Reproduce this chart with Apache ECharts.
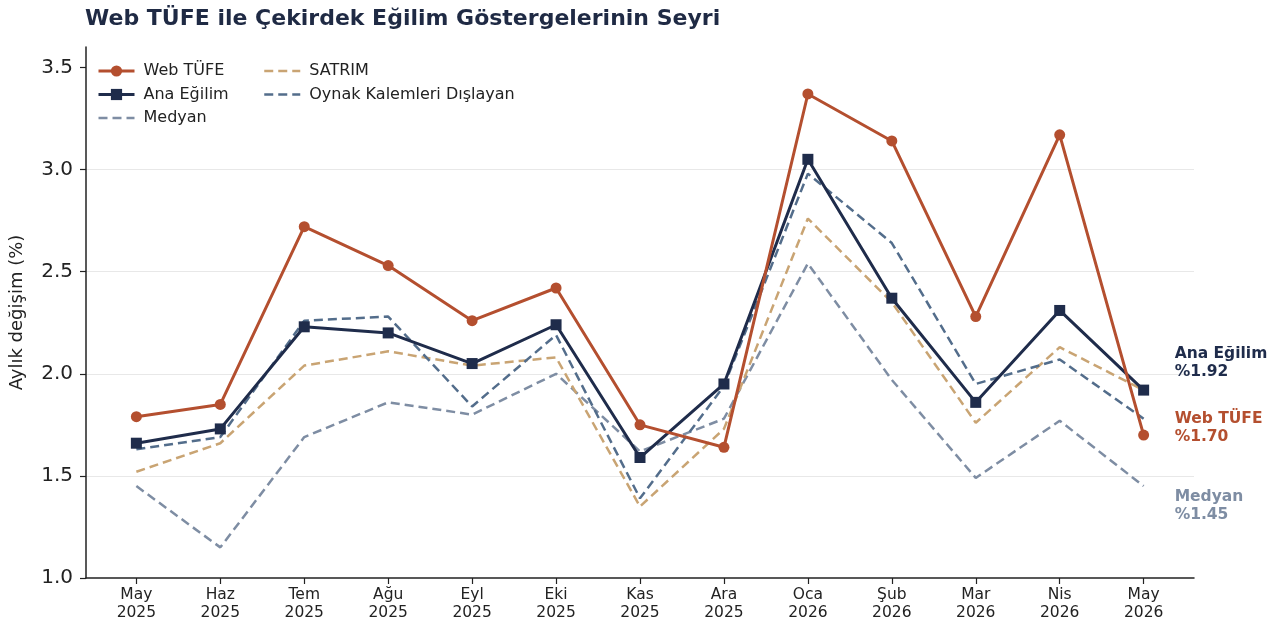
<!DOCTYPE html>
<html>
<head>
<meta charset="utf-8">
<script src="https://cdn.jsdelivr.net/npm/echarts@6/dist/echarts.min.js"></script>
<style>
html,body{margin:0;padding:0;background:#fff;}
#chart{width:1278px;height:630px;}
</style>
</head>
<body>
<div id="chart"></div>
<script>
// ---- data ----
const months = ['May','Haz','Tem','Ağu','Eyl','Eki','Kas','Ara','Oca','Şub','Mar','Nis','May'];
const years  = ['2025','2025','2025','2025','2025','2025','2025','2025','2026','2026','2026','2026','2026'];
const webTufe   = [1.79, 1.85, 2.72, 2.53, 2.26, 2.42, 1.75, 1.64, 3.37, 3.14, 2.28, 3.17, 1.70];
const anaEgilim = [1.66, 1.73, 2.23, 2.20, 2.05, 2.24, 1.59, 1.95, 3.05, 2.37, 1.86, 2.31, 1.92];
const medyan    = [1.45, 1.15, 1.69, 1.86, 1.80, 2.00, 1.62, 1.78, 2.54, 1.97, 1.49, 1.77, 1.45];
const satrim    = [1.52, 1.66, 2.04, 2.11, 2.04, 2.08, 1.35, 1.73, 2.76, 2.35, 1.76, 2.13, 1.92];
const oynak     = [1.63, 1.69, 2.26, 2.28, 1.84, 2.19, 1.39, 1.94, 2.98, 2.64, 1.95, 2.07, 1.78];
const yTicks    = [1.0, 1.5, 2.0, 2.5, 3.0, 3.5];

const idx = months.map((_, i) => i);
const toPts = arr => arr.map((v, i) => [i, v]);

const FONT = 'DejaVu Sans';
const C_WEB = '#b44f2f', C_ANA = '#1f2c4b', C_MED = '#7e8da3', C_SAT = '#c9a473', C_OYN = '#536d8b';

const chart = echarts.init(document.getElementById('chart'), null, {renderer: 'canvas'});

function endLbl(color, dy) {
  return {
    show: true,
    formatter: p => p.seriesName + '\n%' + p.value[1].toFixed(2),
    color: color, fontFamily: FONT, fontWeight: 'bold', fontSize: 15.5, lineHeight: 18,
    align: 'left', verticalAlign: 'middle', distance: 0, offset: [31, dy]
  };
}

const legendBase = {
  orient: 'vertical', top: 63, padding: 0, itemWidth: 36, itemHeight: 14, itemGap: 7.5,
  textStyle: {fontFamily: FONT, fontSize: 16, color: '#222', padding: [0, 0, 0, 4]}
};

const option = {
  animation: false,
  backgroundColor: '#fff',
  textStyle: {fontFamily: FONT},
  title: {
    text: 'Web TÜFE ile Çekirdek Eğilim Göstergelerinin Seyri',
    left: 80, top: 3,
    textStyle: {fontFamily: FONT, fontWeight: 'bold', fontSize: 22, color: '#1f2a44'}
  },
  grid: {left: 85, right: 84, top: 47, bottom: 52, containLabel: false},
  legend: [
    Object.assign({}, legendBase, {
      left: 97,
      data: [
        {name: 'Web TÜFE', lineStyle: {width: 3}},
        {name: 'Ana Eğilim', lineStyle: {width: 3}},
        {name: 'Medyan', itemStyle: {opacity: 0}, lineStyle: {width: 2.5}}
      ]
    }),
    Object.assign({}, legendBase, {
      left: 263,
      data: [
        {name: 'SATRIM', itemStyle: {opacity: 0}, lineStyle: {width: 2.5}},
        {name: 'Oynak Kalemleri Dışlayan', itemStyle: {opacity: 0}, lineStyle: {width: 2.5}}
      ]
    })
  ],
  xAxis: {
    type: 'value', min: -0.6, max: 12.6,
    axisLine: {show: true, onZero: false, lineStyle: {color: '#222', width: 1.5}},
    axisTick: {show: true, customValues: idx, length: 6, lineStyle: {color: '#222', width: 1.2}},
    axisLabel: {
      customValues: idx, margin: 8, fontFamily: FONT, fontSize: 15.5, lineHeight: 18, color: '#222',
      formatter: v => months[Math.round(v)] + '\n' + years[Math.round(v)]
    },
    splitLine: {show: false}
  },
  yAxis: {
    type: 'value', min: 1.0, max: 3.6, interval: 0.5,
    name: 'Aylık değişim (%)', nameLocation: 'middle', nameGap: 60,
    nameTextStyle: {fontFamily: FONT, fontSize: 18, color: '#222'},
    axisLine: {show: true, onZero: false, lineStyle: {color: '#222', width: 1.5}},
    axisTick: {show: true, customValues: yTicks, length: 6, lineStyle: {color: '#222', width: 1.2}},
    axisLabel: {customValues: yTicks, margin: 13, fontFamily: FONT, fontSize: 20, color: '#222',
      padding: [3, 0, 0, 0], formatter: v => v.toFixed(1)},
    splitLine: {show: true, showMinLine: false, showMaxLine: false, lineStyle: {color: '#e8e8e8', width: 1}}
  },
  series: [
    {
      name: 'Web TÜFE', type: 'line', data: toPts(webTufe), z: 5,
      color: C_WEB, symbol: 'circle', symbolSize: 11,
      lineStyle: {color: C_WEB, width: 3}, itemStyle: {color: C_WEB},
      endLabel: endLbl(C_WEB, -7)
    },
    {
      name: 'Ana Eğilim', type: 'line', data: toPts(anaEgilim), z: 4,
      color: C_ANA, symbol: 'rect', symbolSize: 11,
      lineStyle: {color: C_ANA, width: 3}, itemStyle: {color: C_ANA},
      endLabel: endLbl(C_ANA, -27)
    },
    {
      name: 'Medyan', type: 'line', data: toPts(medyan), z: 3,
      color: C_MED, symbol: 'none',
      lineStyle: {color: C_MED, width: 2.5, type: [9, 5]},
      endLabel: endLbl(C_MED, 20)
    },
    {
      name: 'SATRIM', type: 'line', data: toPts(satrim), z: 3,
      color: C_SAT, symbol: 'none',
      lineStyle: {color: C_SAT, width: 2.5, type: [9, 5]}
    },
    {
      name: 'Oynak Kalemleri Dışlayan', type: 'line', data: toPts(oynak), z: 3,
      color: C_OYN, symbol: 'none',
      lineStyle: {color: C_OYN, width: 2.5, type: [9, 5]}
    }
  ]
};
chart.setOption(option);
</script>
</body>
</html>
